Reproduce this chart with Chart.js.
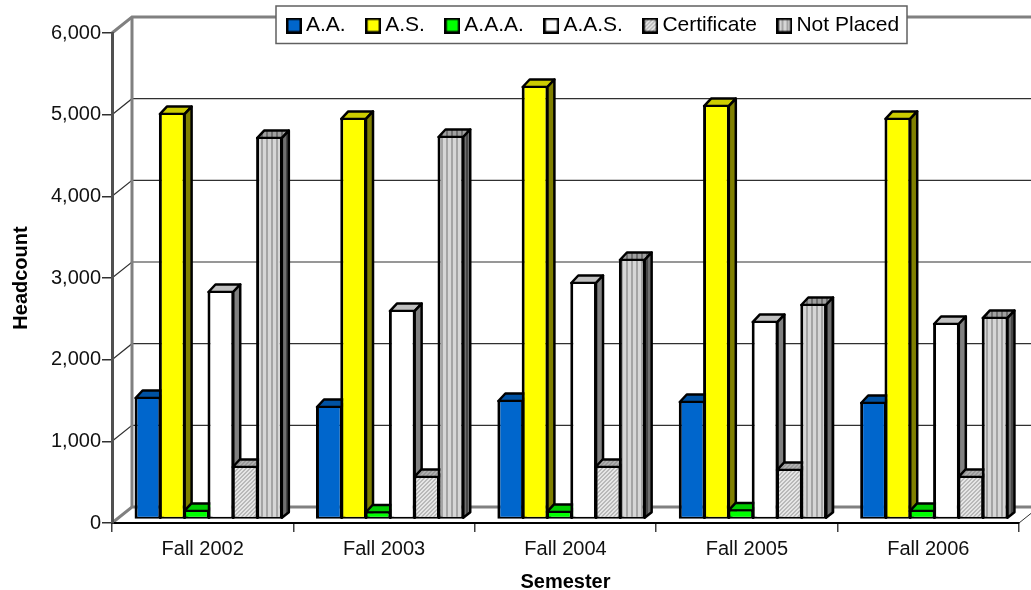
<!DOCTYPE html>
<html>
<head>
<meta charset="utf-8">
<title>Headcount by Semester</title>
<script src="https://cdn.jsdelivr.net/npm/chart.js@4/dist/chart.umd.min.js"></script>
<style>
    html, body { margin: 0; padding: 0; background: #fff; }
    canvas { display: block; }
</style>
</head>
<body>
<canvas id="headcountChart" width="1031" height="590"></canvas>
<script>
const semesters = ['Fall 2002', 'Fall 2003', 'Fall 2004', 'Fall 2005', 'Fall 2006'];
const seriesNames = ['A.A.', 'A.S.', 'A.A.A.', 'A.A.S.', 'Certificate', 'Not Placed'];
const aaValues = [1500, 1390, 1463, 1451, 1439];
const asValues = [4977, 4917, 5308, 5075, 4917];
const aaaValues = [116, 98, 105, 122, 115];
const aasValues = [2798, 2565, 2908, 2430, 2406];
const certificateValues = [655, 532, 655, 618, 532];
const notPlacedValues = [4683, 4696, 3190, 2639, 2479];
const seriesValues = [aaValues, asValues, aaaValues, aasValues, certificateValues, notPlacedValues];

const fontFamily = '"Liberation Sans", Arial, sans-serif';
const wallDx = 20, wallDy = 16;     // depth of the back wall
const barDx = 7, barDy = 6.5;       // depth of each bar
const barShiftX = 6, barShiftY = -3.5;

// small tiled fills for the two grey series
function hatchPattern(light, dark) {
    const c = document.createElement('canvas');
    c.width = 4; c.height = 4;
    const g = c.getContext('2d');
    g.fillStyle = light;
    g.fillRect(0, 0, 4, 4);
    g.strokeStyle = dark;
    g.lineWidth = 1;
    g.beginPath();
    g.moveTo(-1, 5); g.lineTo(5, -1);
    g.moveTo(-1, 1); g.lineTo(1, -1);
    g.moveTo(3, 5); g.lineTo(5, 3);
    g.stroke();
    return g.createPattern(c, 'repeat');
}
function stripePattern(light, dark) {
    const c = document.createElement('canvas');
    c.width = 5; c.height = 1;
    const g = c.getContext('2d');
    g.fillStyle = light;
    g.fillRect(0, 0, 5, 1);
    g.fillStyle = dark;
    g.fillRect(0, 0, 2, 1);
    return g.createPattern(c, 'repeat');
}

const frontFills = ['#0066cc', '#ffff00', '#00ff00', '#ffffff', hatchPattern('#e6e6e6', '#8c8c8c'), stripePattern('#d6d6d6', '#a4a4a4')];
const topFills = ['#0052a3', '#cccc00', '#00cc00', '#c0c0c0', hatchPattern('#b0b0b0', '#808080'), stripePattern('#a0a0a0', '#707070')];
const sideFills = ['#003366', '#808000', '#008000', '#808080', hatchPattern('#808080', '#505050'), stripePattern('#707070', '#484848')];

function legendSwatch(fill) {
    const c = document.createElement('canvas');
    c.width = 16; c.height = 16;
    const g = c.getContext('2d');
    g.fillStyle = fill;
    g.fillRect(1, 1, 14, 14);
    g.strokeStyle = '#000';
    g.lineWidth = 2.5;
    g.strokeRect(1.25, 1.25, 13.5, 13.5);
    return c;
}
const swatches = frontFills.map(legendSwatch);

const chart3d = {
    id: 'chart3d',
    beforeLayout(chart) {
        // legend floats over the top of the wall, so it must not take layout room
        const lg = chart.legend;
        if (lg && !lg.fitWrapped) {
            const fit = lg.fit;
            lg.fit = function () {
                fit.call(this);
                this.height = 0;
            };
            lg.fitWrapped = true;
        }
    },
    afterLayout(chart) {
        const lg = chart.legend;
        lg.left = 266.5;
        lg.right = 1010;
        lg.top = -11;
        lg.bottom = 50;
        lg.width = lg.right - lg.left;
        lg.height = lg.bottom - lg.top;
    },
    beforeDraw(chart) {
        const ctx = chart.ctx;
        const y = chart.scales.y;
        const left = chart.chartArea.left, right = chart.chartArea.right;
        const backX = left + wallDx;
        const edge = chart.width;
        ctx.save();
        y.ticks.forEach(t => {
            const py = y.getPixelForValue(t.value);
            const heavy = t.value === y.min || t.value === y.max;
            ctx.strokeStyle = heavy ? '#808080' : '#303030';
            ctx.lineWidth = heavy ? 3 : 1.2;
            ctx.beginPath();
            ctx.moveTo(left, py);
            ctx.lineTo(backX, py - wallDy);
            ctx.lineTo(edge, py - wallDy);
            ctx.stroke();
        });
        // back wall upright
        ctx.strokeStyle = '#808080';
        ctx.lineWidth = 3;
        ctx.beginPath();
        ctx.moveTo(backX, y.getPixelForValue(y.max) - wallDy);
        ctx.lineTo(backX, y.getPixelForValue(0) - wallDy);
        ctx.stroke();
        // floor edge at the right
        const py0 = y.getPixelForValue(0);
        ctx.strokeStyle = '#303030';
        ctx.lineWidth = 1;
        ctx.beginPath();
        ctx.moveTo(right, py0);
        ctx.lineTo(right + wallDx, py0 - wallDy);
        ctx.stroke();
        // legend frame
        ctx.fillStyle = '#fff';
        ctx.fillRect(276, 6, 631, 37.5);
        ctx.strokeStyle = '#606060';
        ctx.lineWidth = 1.5;
        ctx.strokeRect(276, 6, 631, 37.5);
        ctx.restore();
    },
    beforeDatasetsDraw(chart) {
        const ctx = chart.ctx;
        // painted left to right so each bar hides the side of the one before it
        ctx.save();
        ctx.translate(barShiftX, barShiftY);
        ctx.lineJoin = 'round';
        ctx.lineWidth = 2.5;
        ctx.strokeStyle = '#000';
        semesters.forEach((s, j) => {
            seriesNames.forEach((n, i) => {
                const bar = chart.getDatasetMeta(i).data[j];
                const p = bar.getProps(['x', 'y', 'base', 'width'], true);
                const l = p.x - p.width / 2, r = p.x + p.width / 2;
                ctx.fillStyle = topFills[i];
                ctx.beginPath();
                ctx.moveTo(l + 1, p.y + 1);
                ctx.lineTo(l + barDx + 1, p.y - barDy);
                ctx.lineTo(r + barDx - 1, p.y - barDy);
                ctx.lineTo(r - 1, p.y + 1);
                ctx.closePath();
                ctx.fill();
                ctx.stroke();
                ctx.fillStyle = sideFills[i];
                ctx.beginPath();
                ctx.moveTo(r - 1, p.y + 1);
                ctx.lineTo(r + barDx - 1, p.y - barDy);
                ctx.lineTo(r + barDx - 1, p.base - barDy);
                ctx.lineTo(r - 1, p.base - 1);
                ctx.closePath();
                ctx.fill();
                ctx.stroke();
                bar.draw(ctx);
            });
        });
        ctx.restore();
        return false;
    },
};

const ctx = document.getElementById('headcountChart').getContext('2d');
new Chart(ctx, {
    type: 'bar',
    data: {
        labels: semesters,
        datasets: seriesNames.map((name, i) => ({
            label: name,
            data: seriesValues[i],
            backgroundColor: frontFills[i],
            borderColor: '#000',
            borderWidth: { top: 2, bottom: 2, left: 3, right: 3 },
            borderSkipped: false,
            barPercentage: 1.1,
            categoryPercentage: 0.804,
        })),
    },
    options: {
        responsive: false,
        animation: false,
        layout: { padding: { left: 0, right: 12, top: 33, bottom: 0 } },
        plugins: {
            title: { display: false },
            tooltip: { enabled: false },
            legend: {
                display: true,
                position: 'top',
                align: 'start',
                labels: {
                    usePointStyle: true,
                    pointStyleWidth: 3,
                    boxHeight: 16,
                    padding: 26,
                    color: '#000',
                    font: { family: fontFamily, size: 21 },
                    generateLabels: () => seriesNames.map((name, i) => ({
                        text: name,
                        pointStyle: swatches[i],
                        fontColor: '#000',
                        datasetIndex: i,
                    })),
                },
            },
        },
        scales: {
            x: {
                grid: { drawOnChartArea: false, drawTicks: true, tickLength: 9, color: '#404040', lineWidth: 1.5 },
                border: { color: '#000', width: 2 },
                ticks: { color: '#111', padding: 5, maxRotation: 0, font: { family: fontFamily, size: 20 } },
                title: {
                    display: true,
                    text: 'Semester',
                    color: '#000',
                    padding: { top: 0, bottom: -4 },
                    font: { family: fontFamily, size: 20, weight: 'bold' },
                },
                afterFit(scale) { scale.height = 67; },
            },
            y: {
                min: 0,
                max: 6000,
                grid: { drawOnChartArea: false, drawTicks: true, tickLength: 10, color: '#303030', lineWidth: 1.5 },
                border: { color: '#505050', width: 3 },
                ticks: { stepSize: 1000, color: '#111', padding: 1, font: { family: fontFamily, size: 20 } },
                title: {
                    display: true,
                    text: 'Headcount',
                    color: '#000',
                    padding: { top: 9, bottom: 0 },
                    font: { family: fontFamily, size: 20, weight: 'bold' },
                },
                afterFit(scale) { scale.width = 112; },
            },
        },
    },
    plugins: [chart3d],
});
</script>
</body>
</html>
